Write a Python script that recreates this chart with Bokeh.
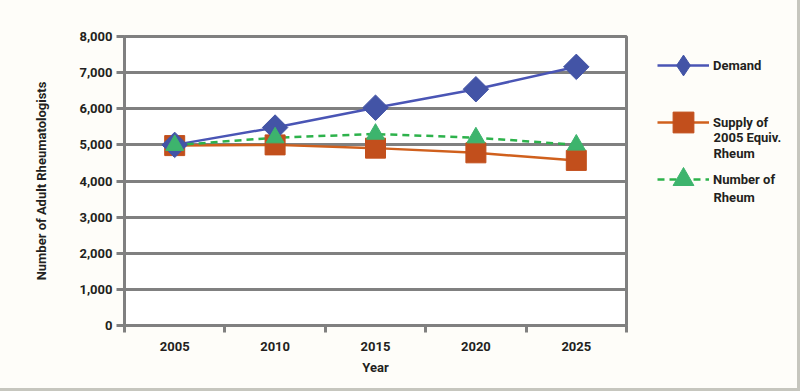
import math
from bokeh.plotting import figure
from bokeh.layouts import row
from bokeh.models import (Range1d, FixedTicker, Legend, LegendItem, Label,
                          ColumnDataSource, NumeralTickFormatter)
from bokeh.embed import file_html
from bokeh.resources import INLINE

# ---- data ----
years = ["2005", "2010", "2015", "2020", "2025"]
demand = [5000, 5480, 6030, 6540, 7160]
supply = [4980, 5000, 4910, 4780, 4570]
number = [4990, 5200, 5300, 5200, 5000]
y_ticks = [0, 1000, 2000, 3000, 4000, 5000, 6000, 7000, 8000]

FONT = "Roboto"
FS = "13px"
TXT = "#231f20"
GRID = "#808080"
BG = "#fefdf9"
BLUE = "#4354a6"
BLUE_LINE = "#4a55b5"
ORANGE = "#c24f1c"
ORANGE_LINE = "#d0601d"
GREEN = "#3db46d"
GREEN_LINE = "#2db24b"

xs = [i + 0.5 for i in range(len(years))]
src = ColumnDataSource(dict(x=xs, demand=demand, supply=supply, number=number))

p = figure(width=640, height=388, output_backend="svg", toolbar_location=None,
           x_range=Range1d(0, len(years)), y_range=Range1d(0, 8000),
           min_border_left=124, min_border_right=14, min_border_top=36,
           min_border_bottom=63)
p.border_fill_color = BG
p.background_fill_color = "white"
p.outline_line_color = GRID
p.outline_line_width = 3

p.xgrid.visible = False
p.ygrid.grid_line_color = GRID
p.ygrid.grid_line_width = 3

# y axis
p.yaxis.ticker = FixedTicker(ticks=y_ticks, minor_ticks=[])
p.yaxis.formatter = NumeralTickFormatter(format="0,0")
p.yaxis.axis_label = "Number of Adult Rheumatologists"
p.yaxis.axis_line_color = GRID
p.yaxis.axis_line_width = 3
p.yaxis.major_tick_line_color = GRID
p.yaxis.major_tick_line_width = 3
p.yaxis.major_tick_out = 8
p.yaxis.major_tick_in = 0
p.yaxis.minor_tick_line_color = None
p.yaxis.major_label_standoff = 4
p.yaxis.axis_label_standoff = 27

# x axis: labels at category centres, tick marks at category boundaries
p.xaxis.ticker = FixedTicker(ticks=xs, minor_ticks=list(range(len(years) + 1)))
p.xaxis.major_label_overrides = {x: y for x, y in zip(xs, years)}
p.xaxis.axis_label = "Year"
p.xaxis.axis_line_color = GRID
p.xaxis.axis_line_width = 3
p.xaxis.major_tick_line_color = None
p.xaxis.major_tick_out = 0
p.xaxis.major_tick_in = 0
p.xaxis.minor_tick_line_color = GRID
p.xaxis.minor_tick_line_width = 3
p.xaxis.minor_tick_out = 7
p.xaxis.minor_tick_in = 0
p.xaxis.major_label_standoff = 9
p.xaxis.axis_label_standoff = 6

for ax in (p.xaxis, p.yaxis):
    ax.major_label_text_font = FONT
    ax.major_label_text_font_size = FS
    ax.major_label_text_font_style = "bold"
    ax.major_label_text_color = TXT
    ax.axis_label_text_font = FONT
    ax.axis_label_text_font_size = FS
    ax.axis_label_text_font_style = "bold"
    ax.axis_label_text_color = TXT

# series
p.line("x", "demand", source=src, line_color=BLUE_LINE, line_width=2.5)
p.line("x", "supply", source=src, line_color=ORANGE_LINE, line_width=2.5)
p.line("x", "number", source=src, line_color=GREEN_LINE, line_width=2.5,
       line_dash="7 5")
p.scatter("x", "supply", source=src, marker="square", size=20,
          fill_color=ORANGE, line_color=ORANGE)
p.scatter("x", "demand", source=src, marker="square", angle=math.pi / 4,
          size=18, fill_color=BLUE, line_color=BLUE)
p.scatter("x", "number", source=src, marker="triangle", size=18,
          fill_color=GREEN, line_color=GREEN)

# ---- legend panel ----
lg = figure(width=157, height=388, output_backend="svg", toolbar_location=None,
            x_range=Range1d(0, 1), y_range=Range1d(0, 1),
            x_axis_type=None, y_axis_type=None,
            min_border_left=0, min_border_right=0, min_border_top=0,
            min_border_bottom=0)
lg.outline_line_color = None
lg.background_fill_color = BG
lg.border_fill_color = BG
lg.grid.visible = False

# legend key renderers: no visible data (NaN), only used to draw legend keys
nan = float("nan")
key_src = ColumnDataSource(dict(x=[nan], y=[nan]))
k_dl = lg.line("x", "y", source=key_src, line_color=BLUE_LINE, line_width=2.5)
k_dm = lg.scatter("x", "y", source=key_src, marker="diamond", fill_color=BLUE,
                  line_color=BLUE)
k_sl = lg.line("x", "y", source=key_src, line_color=ORANGE_LINE, line_width=2.5)
k_sm = lg.scatter("x", "y", source=key_src, marker="square", fill_color=ORANGE,
                  line_color=ORANGE)
k_nl = lg.line("x", "y", source=key_src, line_color=GREEN_LINE, line_width=2.5,
               line_dash="7 5")
k_nm = lg.scatter("x", "y", source=key_src, marker="triangle", fill_color=GREEN,
                  line_color=GREEN)

# frame of the legend panel is aligned to the main plot frame (bottom at y=325)
legend = Legend(items=[
    LegendItem(label="Demand", renderers=[k_dl, k_dm]),
    LegendItem(label="Supply of", renderers=[k_sl, k_sm]),
    LegendItem(label="Number of", renderers=[k_nl, k_nm]),
], location=(17, 120))
legend.padding = 0
legend.margin = 0
legend.spacing = 5
legend.glyph_width = 52
legend.glyph_height = 52
legend.label_height = 52
legend.label_standoff = 4
legend.border_line_alpha = 0
legend.background_fill_alpha = 0
legend.label_text_font = FONT
legend.label_text_font_size = FS
legend.label_text_font_style = "bold"
legend.label_text_color = TXT
lg.add_layout(legend, "center")

extra = [("2005 Equiv.", 188), ("Rheum", 172), ("Rheum", 128)]
for t, yy in extra:
    lg.add_layout(Label(x=73, y=yy, x_units="screen", y_units="screen", text=t,
                        text_font=FONT, text_font_size=FS, text_font_style="bold",
                        text_color=TXT, text_baseline="middle"), "center")

layout = row(p, lg, spacing=0,
             styles={"border-right": "3px solid #c6c6be",
                     "border-bottom": "3px solid #c6c6be",
                     "background-color": BG})

open("out.html", "w").write(file_html(layout, INLINE))
